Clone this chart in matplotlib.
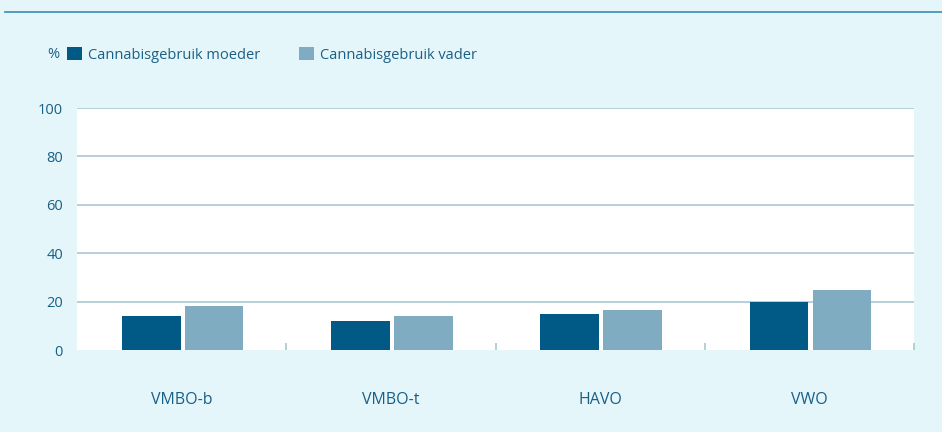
import matplotlib.pyplot as plt
import numpy as np
from matplotlib.lines import Line2D

plt.rcParams['font.family'] = ['Open Sans', 'DejaVu Sans']

categories = ['VMBO-b', 'VMBO-t', 'HAVO', 'VWO']
moeder = [14, 12, 15, 20]
vader = [18, 14, 16.5, 25]
labels = ['Cannabisgebruik moeder', 'Cannabisgebruik vader']

bg = '#e4f6fa'
dark = '#005a85'
light = '#80acc2'
txt = '#1a5f86'
grid = '#a9c8d6'

fig = plt.figure(figsize=(9.42, 4.32), dpi=100, facecolor=bg)
ax = fig.add_axes([77 / 942, 1 - 350 / 432, 837 / 942, 242 / 432])
ax.set_facecolor('white')

x = np.arange(len(categories))
w = 0.28
b1 = ax.bar(x - 0.145, moeder, w, color=dark, label=labels[0], zorder=3)
b2 = ax.bar(x + 0.155, vader, w, color=light, label=labels[1], zorder=3)

ax.set_xlim(-0.5, 3.5)
ax.set_ylim(0, 100)
ax.set_yticks([0, 20, 40, 60, 80, 100])
ax.yaxis.grid(True, color=grid, linewidth=1.2, zorder=1)
ax.get_ygridlines()[0].set_visible(False)
for s in ax.spines.values():
    s.set_visible(False)

ax.tick_params(axis='y', length=0, labelcolor=txt, labelsize=10.5, pad=10)
ax.set_xticks(x)
ax.set_xticklabels(categories)
ax.tick_params(axis='x', which='major', length=0, labelcolor=txt, labelsize=11.5, pad=30)
ax.set_xticks([0.5, 1.5, 2.5, 3.5], minor=True)
ax.tick_params(axis='x', which='minor', direction='in', length=5, color=grid, width=1.2)

fig.text(53 / 942, 1 - 55 / 432, '%', color=txt, fontsize=10.5, ha='center', va='center')
fig.legend(handles=[b1, b2], loc='center left', bbox_to_anchor=(54 / 942, 1 - 55 / 432),
           ncol=2, frameon=False, handlelength=1.0, handleheight=1.0, handletextpad=0.4,
           columnspacing=2.7, labelcolor=txt, fontsize=10.5)

fig.add_artist(Line2D([5 / 942, 1], [1 - 12 / 432, 1 - 12 / 432], color='#3a8ab0', linewidth=1.2))

fig.savefig('out.png', dpi=100, facecolor=bg)
